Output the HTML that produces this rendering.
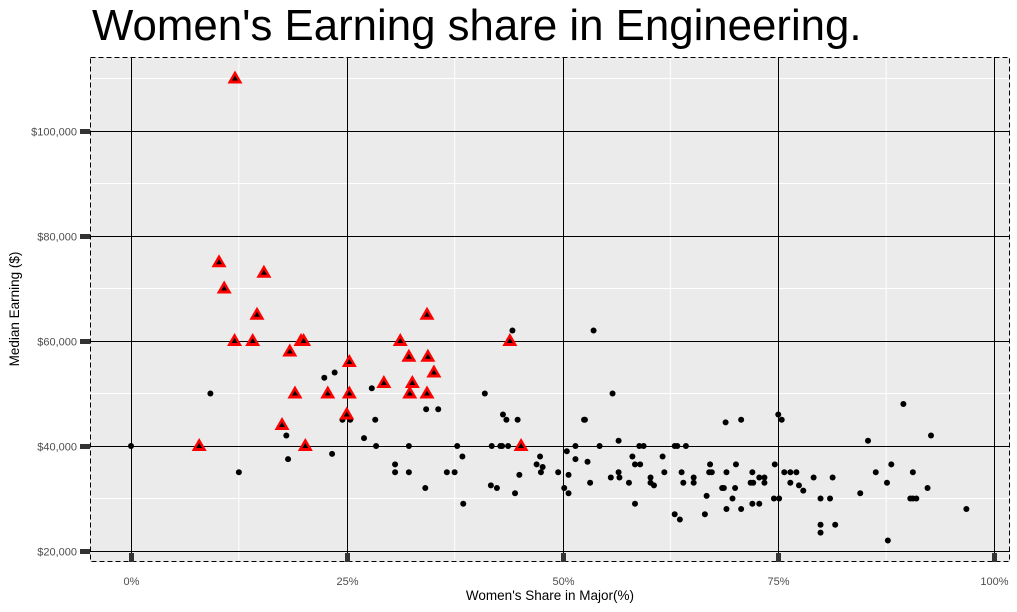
<!DOCTYPE html>
<html><head><meta charset="utf-8">
<style>
body{margin:0;background:#fff;}
svg{display:block;font-family:"Liberation Sans",Arial,sans-serif;}
</style></head>
<body>
<svg width="1017" height="612" viewBox="0 0 1017 612" xmlns="http://www.w3.org/2000/svg" id="chart">
<text x="92" y="40" font-size="43.8" fill="#000">Women's Earning share in Engineering.</text>
<rect x="90" y="57" width="920" height="505" fill="#ebebeb"/>
<g id="grid"></g>
<g id="points"></g>
<rect x="90.5" y="57.5" width="919" height="504" fill="none" stroke="#000" stroke-dasharray="5,3" stroke-width="1"/>
<g id="axes"></g>
<text x="550" y="600" font-size="13.5" text-anchor="middle" fill="#000">Women's Share in Major(%)</text>
<text transform="translate(19,309) rotate(-90)" font-size="13.5" text-anchor="middle" fill="#000">Median Earning ($)</text>
</svg>
<script>
const xTicks=[0,0.25,0.5,0.75,1];
const xTickLabels=["0%","25%","50%","75%","100%"];
const yTicks=[20000,40000,60000,80000,100000];
const yTickLabels=["$20,000","$40,000","$60,000","$80,000","$100,000"];
const engShare=[0.1205,0.102,0.108,0.154,0.146,0.12,0.141,0.197,0.2,0.184,0.19,0.253,0.228,0.253,0.25,0.175,0.202,0.079,0.293,0.312,0.322,0.343,0.344,0.351,0.326,0.323,0.343,0.439,0.452];
const engEarn=[110000,75000,70000,73000,65000,60000,60000,60000,60000,58000,50000,56000,50000,50000,46000,44000,40000,40000,52000,60000,57000,65000,57000,54000,52000,50000,50000,60000,40000];
const otherShare=[0,0.092,0.125,0.18,0.182,0.224,0.236,0.233,0.245,0.254,0.27,0.279,0.283,0.284,0.306,0.306,0.322,0.322,0.341,0.342,0.356,0.366,0.375,0.378,0.384,0.385,0.41,0.417,0.424,0.431,0.435,0.442,0.448,0.418,0.428,0.43,0.437,0.45,0.445,0.47,0.474,0.477,0.475,0.495,
0.536,0.558,0.630,0.633,0.643,0.543,0.515,0.505,0.515,0.529,0.525,0.526,0.565,0.589,0.594,0.581,0.616,0.584,0.590,0.565,0.618,0.638,0.652,0.652,0.640,0.602,0.602,0.606,0.556,0.566,0.577,0.532,0.507,0.502,0.507,0.584,0.630,0.636,0.665,0.667,0.671,0.670,0.673,0.689,0.707,0.690,0.701,0.685,0.687,0.697,0.700,0.690,0.707,0.720,0.728,0.734,0.718,0.721,0.734,0.720,0.728,0.745,0.751,0.746,0.750,0.754,0.757,0.764,0.771,0.764,0.774,0.779,0.791,0.799,0.810,0.813,0.799,0.799,0.816,0.845,0.854,0.863,0.876,0.877,0.881,0.895,0.906,0.903,0.906,0.910,0.923,0.927,0.968];
const otherEarn=[40000,50000,35000,42000,37500,53000,54000,38500,45000,45000,41500,51000,45000,40000,36500,35000,40000,35000,32000,47000,47000,35000,35000,40000,38000,29000,50000,32500,32000,46000,45000,62000,45000,40000,40000,40000,40000,34500,31000,36500,38000,36000,35000,35000,
62000,50000,40000,40000,40000,40000,40000,39000,37500,37000,45000,45000,41000,40000,40000,38000,38000,36500,36500,35000,35000,35000,34000,33000,33000,34000,33000,32500,34000,34000,33000,33000,34500,32000,31000,29000,27000,26000,27000,30500,36500,35000,35000,44500,45000,35000,36500,32000,32000,30000,32000,28000,28000,35000,34000,34000,33000,33000,33000,29000,29000,30000,30000,36500,46000,45000,35000,35000,35000,33000,32500,31500,34000,30000,30000,34000,25000,23500,25000,31000,41000,35000,33000,22000,36500,48000,35000,30000,30000,30000,32000,42000,28000];

const NS="http://www.w3.org/2000/svg";
const X0=131,X1=994,YA=551,YB=131;
function xScale(v){return X0+v*(X1-X0);}
function yScale(v){return YA-(v-20000)/80000*(YA-YB);}
function mk(tag,attrs,parent){const e=document.createElementNS(NS,tag);for(const k in attrs)e.setAttribute(k,attrs[k]);parent.appendChild(e);return e;}
const grid=document.getElementById('grid'),pts=document.getElementById('points'),axes=document.getElementById('axes');
for(let i=0;i<xTicks.length-1;i++){
  const v=(xTicks[i]+xTicks[i+1])/2;
  const l=mk('line',{x1:xScale(v),x2:xScale(v),y1:57,y2:562,stroke:'#fff','stroke-width':1},grid);
  
  
}
for(let i=0;i<yTicks.length-1;i++){
  const v=(yTicks[i]+yTicks[i+1])/2;
  const l=mk('line',{x1:90,x2:1010,y1:yScale(v),y2:yScale(v),stroke:'#fff','stroke-width':1},grid);
  
  
}
{const v=yTicks[yTicks.length-1]+10000;
 const l=mk('line',{x1:90,x2:1010,y1:yScale(v),y2:yScale(v),stroke:'#fff','stroke-width':1},grid);
 
 }
xTicks.forEach((v,i)=>{
  const x=Math.round(xScale(v))+0.5;
  const l=mk('line',{x1:x,x2:x,y1:57,y2:562,stroke:'#000','stroke-width':1},grid);
  
  
  const t=mk('rect',{x:x-2.5,y:553,width:5,height:9,fill:'#333'},axes);
  
  
  const tx=mk('text',{x:x,y:585,'font-size':11,'text-anchor':'middle',fill:'#4d4d4d'},axes);
  tx.textContent=xTickLabels[i];
  
  
});
yTicks.forEach((v,i)=>{
  const y=Math.round(yScale(v))+0.5;
  const l=mk('line',{x1:90,x2:1010,y1:y,y2:y,stroke:'#000','stroke-width':1},grid);
  
  
  const t=mk('rect',{x:80,y:y-2.5,width:10,height:5,fill:'#333'},axes);
  
  
  const tx=mk('text',{x:77,y:y+4,'font-size':11,'text-anchor':'end',fill:'#4d4d4d'},axes);
  tx.textContent=yTickLabels[i];
  
  
});
otherShare.forEach((s,i)=>{
  const c=mk('circle',{cx:xScale(s),cy:yScale(otherEarn[i]),r:3,fill:'#000'},pts);
  
  
});
engShare.forEach((s,i)=>{
  const x=xScale(s),y=yScale(engEarn[i]);
  const g=mk('g',{},pts);
  
  
  mk('polygon',{points:`${x},${y-8} ${x+7.5},${y+5} ${x-7.5},${y+5}`,fill:'#ff0000'},g);
  mk('polygon',{points:`${x},${y-3} ${x+3},${y+2} ${x-3},${y+2}`,fill:'#000'},g);
});
</script>
</body></html>
